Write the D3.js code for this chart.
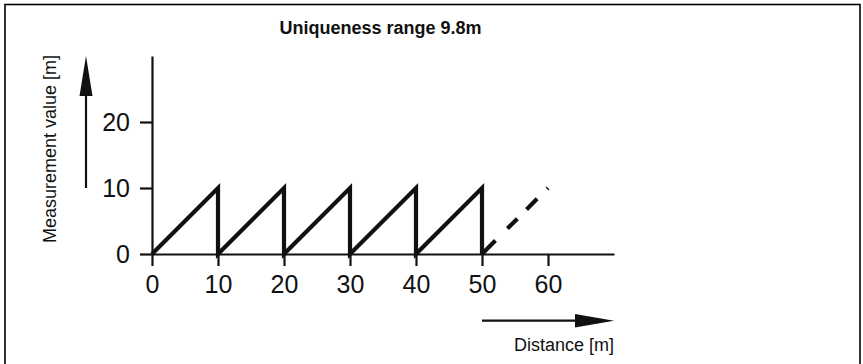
<!DOCTYPE html>
<html>
<head>
<meta charset="utf-8">
<script src="https://cdn.jsdelivr.net/npm/d3@7"></script>
<style>
  body { margin: 0; background: #fff; }
  svg { display: block; font-family: "Liberation Sans", Arial, Helvetica, sans-serif; }
</style>
</head>
<body>
<div id="chart"></div>
<script>
// Sawtooth: measurement value wraps every 10 m of distance
var sawDistance = [0, 10, 10, 20, 20, 30, 30, 40, 40, 50, 50];
var sawValue    = [0, 10, 0, 10, 0, 10, 0, 10, 0, 10, 0];
// Continuation past the last wrap (dashed)
var extDistance = [50, 60];
var extValue    = [0, 10];
var xTicks = [0, 10, 20, 30, 40, 50, 60];
var yTicks = [0, 10, 20];
var titleText = "Uniqueness range 9.8m";

var width = 863, height = 364;

var svg = d3.select("#chart").append("svg")
  .attr("width", width)
  .attr("height", height);

// outer frame (bottom edge falls outside the picture)
svg.append("rect")
  .attr("x", 5).attr("y", 4.5)
  .attr("width", 855).attr("height", 380)
  .attr("fill", "none")
  .attr("stroke", "#000")
  .attr("stroke-width", 1.6);

var x = d3.scaleLinear().domain([0, 70]).range([152, 614]);
var y = d3.scaleLinear().domain([0, 30]).range([254, 56]);

// x axis
var xAxis = d3.axisBottom(x)
  .tickValues(xTicks)
  .tickSize(12)
  .tickSizeOuter(0)
  .tickPadding(9);

var gx = svg.append("g")
  .attr("transform", "translate(0," + y(0) + ")")
  .call(xAxis);

// y axis
var yAxis = d3.axisLeft(y)
  .tickValues(yTicks)
  .tickSize(12)
  .tickSizeOuter(0)
  .tickPadding(10);

var gy = svg.append("g")
  .attr("transform", "translate(" + x(0) + ",0)")
  .call(yAxis);

[gx, gy].forEach(function (g) {
  g.selectAll("path.domain").attr("stroke-width", 2.2).attr("stroke", "#111");
  g.selectAll(".tick line").attr("stroke-width", 2.2).attr("stroke", "#111");
  g.selectAll(".tick text")
    .attr("font-size", "25px")
    .attr("font-family", "Liberation Sans, Arial, sans-serif")
    .attr("fill", "#111");
});

// sawtooth line
var sawPoints = sawDistance.map(function (d, i) { return [d, sawValue[i]]; });
var extPoints = extDistance.map(function (d, i) { return [d, extValue[i]]; });

var line = d3.line()
  .x(function (d) { return x(d[0]); })
  .y(function (d) { return y(d[1]); });

svg.append("path")
  .datum(sawPoints)
  .attr("d", line)
  .attr("fill", "none")
  .attr("stroke", "#111")
  .attr("stroke-width", 4.2)
  .attr("stroke-linejoin", "miter");

svg.append("path")
  .datum(extPoints)
  .attr("d", line)
  .attr("fill", "none")
  .attr("stroke", "#111")
  .attr("stroke-width", 4.2)
  .attr("stroke-dasharray", "19,17,14,13,15,14");

// y direction arrow
var ax = 86;
svg.append("line")
  .attr("x1", ax).attr("x2", ax)
  .attr("y1", y(10)).attr("y2", y(27))
  .attr("stroke", "#111")
  .attr("stroke-width", 2.2);
svg.append("path")
  .attr("d", "M" + ax + "," + y(30) +
             "L" + (ax + 6.5) + "," + (y(30) + 40) +
             "L" + (ax - 6.5) + "," + (y(30) + 40) + "Z")
  .attr("fill", "#111");

// x direction arrow
var ay = 320.7;
svg.append("line")
  .attr("x1", x(50)).attr("x2", x(65))
  .attr("y1", ay).attr("y2", ay)
  .attr("stroke", "#111")
  .attr("stroke-width", 2.2);
svg.append("path")
  .attr("d", "M" + x(70) + "," + ay +
             "L" + (x(70) - 39) + "," + (ay - 6.7) +
             "L" + (x(70) - 39) + "," + (ay + 6.7) + "Z")
  .attr("fill", "#111");

// labels
svg.append("text")
  .attr("x", 380.5).attr("y", 34)
  .attr("text-anchor", "middle")
  .attr("font-size", "18px")
  .attr("font-weight", "bold")
  .attr("fill", "#111")
  .text(titleText);

svg.append("text")
  .attr("transform", "translate(56,149) rotate(-90)")
  .attr("text-anchor", "middle")
  .attr("font-size", "18px")
  .attr("fill", "#111")
  .text("Measurement value [m]");

svg.append("text")
  .attr("x", x(70)).attr("y", 350.5)
  .attr("text-anchor", "end")
  .attr("font-size", "18px")
  .attr("fill", "#111")
  .text("Distance [m]");
</script>
</body>
</html>
